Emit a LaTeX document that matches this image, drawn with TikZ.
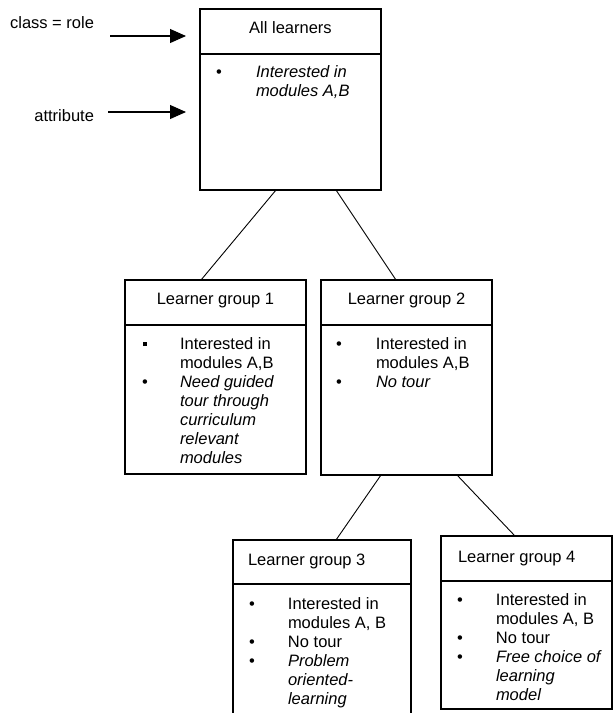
\documentclass[tikz,border=0pt]{standalone}
\usepackage{fontspec}
\setmainfont{Liberation Sans}
\usetikzlibrary{arrows.meta,calc}
\newcommand{\bul}{\textbullet}
\newcommand{\sqbul}{\hspace*{1pt}\rule[3pt]{4pt}{4pt}}
\begin{document}
\begin{tikzpicture}[x=1pt,y=-1pt,
  box/.style={draw, line width=1.1pt, inner sep=0pt, outer sep=0pt, anchor=north west, rectangle},
  lbl/.style={inner sep=0pt, outer sep=0pt, font=\fontsize{16.5}{19}\selectfont},
  conn/.style={line width=0.9pt},
  pointer/.style={line width=1.1pt, -{Triangle[length=16pt,width=14pt]}}]
\useasboundingbox (0,0) rectangle (613,713);
\clip (0,0) rectangle (613,713);

% side labels and arrows
\node[lbl, anchor=base east] (cr) at (94,28) {class = role};
\node[lbl, anchor=base east] (at) at (94,121) {attribute};
\coordinate (cr1) at (110,36); \coordinate (cr2) at (186,36);
\coordinate (at1) at (108,112); \coordinate (at2) at (186,112);
\draw[pointer] (cr1) -- (cr2);
\draw[pointer] (at1) -- (at2);

% All learners
\node[box, minimum width=181pt, minimum height=45pt] (Tt) at (200,9) {};
\node[box, minimum width=181pt, minimum height=136pt] (Tb) at (Tt.south west) {};
\node[lbl, anchor=base] (Ttx) at (290.5,33) {All learners};
\node[lbl, anchor=base west] (Tl) at (216,77) {\begin{tabular}[t]{@{}p{40pt}@{}l@{}}
\bul & \itshape Interested in\\
 & \itshape modules A,B
\end{tabular}};

% Learner group 1
\node[box, minimum width=181pt, minimum height=45pt] (G1t) at (125,280) {};
\node[box, minimum width=181pt, minimum height=149pt] (G1b) at (G1t.south west) {};
\node[lbl, anchor=base] (G1tx) at (215.5,304) {Learner group 1};
\node[lbl, anchor=base west] (G1l) at (142,349) {\begin{tabular}[t]{@{}p{38pt}@{}l@{}}
\sqbul & Interested in\\
 & modules A,B\\
\bul & \itshape Need guided\\
 & \itshape tour through\\
 & \itshape curriculum\\
 & \itshape relevant\\
 & \itshape modules
\end{tabular}};

% Learner group 2
\node[box, minimum width=171pt, minimum height=45pt] (G2t) at (321,280) {};
\node[box, minimum width=171pt, minimum height=150pt] (G2b) at (G2t.south west) {};
\node[lbl, anchor=base] (G2tx) at (406.5,304) {Learner group 2};
\node[lbl, anchor=base west] (G2l) at (336,349) {\begin{tabular}[t]{@{}p{40pt}@{}l@{}}
\bul & Interested in\\
 & modules A,B\\
\bul & \itshape No tour
\end{tabular}};

% Learner group 3
\node[box, minimum width=178pt, minimum height=44pt] (G3t) at (233,540) {};
\node[box, minimum width=178pt, minimum height=140pt] (G3b) at (G3t.south west) {};
\node[lbl, anchor=base west] (G3tx) at (248,565) {Learner group 3};
\node[lbl, anchor=base west] (G3l) at (249,609) {\begin{tabular}[t]{@{}p{39pt}@{}l@{}}
\bul & Interested in\\
 & modules A, B\\
\bul & No tour\\
\bul & \itshape Problem\\
 & \itshape oriented-\\
 & \itshape learning
\end{tabular}};

% Learner group 4
\node[box, minimum width=171pt, minimum height=45pt] (G4t) at (441,536) {};
\node[box, minimum width=171pt, minimum height=128pt] (G4b) at (G4t.south west) {};
\node[lbl, anchor=base west] (G4tx) at (458,562) {Learner group 4};
\node[lbl, anchor=base west] (G4l) at (457,605) {\begin{tabular}[t]{@{}p{39pt}@{}l@{}}
\bul & Interested in\\
 & modules A, B\\
\bul & No tour\\
\bul & \itshape Free choice of\\
 & \itshape learning\\
 & \itshape model
\end{tabular}};

% connectors
\draw[conn] ([xshift=76pt]Tb.south west) -- ([xshift=76pt]G1t.north west);
\draw[conn] ([xshift=136pt]Tb.south west) -- ([xshift=75pt]G2t.north west);
\draw[conn] ([xshift=60pt]G2b.south west) -- ([xshift=103pt]G3t.north west);
\draw[conn] ([xshift=136pt]G2b.south west) -- ([xshift=74pt]G4t.north west);
\end{tikzpicture}
\end{document}
